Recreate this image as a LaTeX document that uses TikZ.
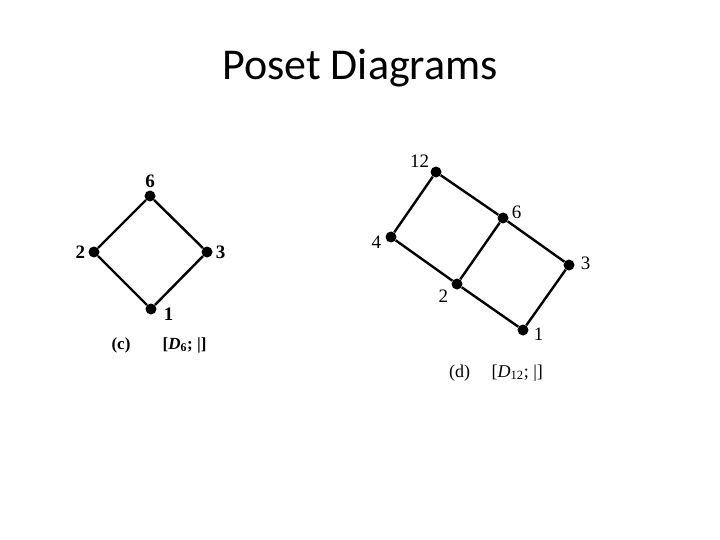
\documentclass[tikz,border=0pt]{standalone}
\usepackage{fontspec}
\setmainfont{Liberation Serif}
\newfontfamily\titlefont{Carlito}

\begin{document}
\begin{tikzpicture}[x=1pt, y=-1pt,
        elem/.style={circle, fill=black, inner sep=0pt, minimum size=11pt},
        lbl/.style={font=\fontsize{19}{19}\selectfont, inner sep=1pt},
        blbl/.style={font=\fontsize{19}{19}\selectfont\bfseries, inner sep=1pt},
        edge/.style={line width=2.4pt},
        caption/.style={font=\fontsize{18}{18}\selectfont}
    ]
        \useasboundingbox (0,0) rectangle (720,540);

        % Title
        \node[font=\titlefont\fontsize{44}{44}\selectfont] (title) at (360,68) {Poset Diagrams};

        % Left poset: divisors of 6
        \node[elem, label={[blbl, label distance=1pt]above:6}] (c6) at (150,196) {};
        \node[elem, label={[blbl, label distance=2pt]left:2}] (c2) at (94,252) {};
        \node[elem, label={[blbl, label distance=2pt]right:3}] (c3) at (207,252) {};
        \node[elem, label={[blbl, label distance=6pt, yshift=-5pt]right:1}] (c1) at (151,309) {};
        \draw[edge] (c1) -- (c2) -- (c6) -- (c3) -- (c1);
        \node[caption, font=\fontsize{17}{17}\selectfont\bfseries] (ccap) at (159,345) {(c)\hspace{1.9em}[\textit{D}\textsubscript{6}; |]};

        % Right poset: divisors of 12
        \node[elem, label={[lbl, label distance=1pt]150:12}] (d12) at (436,172) {};
        \node[elem, label={[lbl, label distance=2pt, yshift=6pt]right:6}] (d6) at (503,218) {};
        \node[elem, label={[lbl, label distance=3pt, yshift=-5pt]left:4}] (d4) at (391,237) {};
        \node[elem, label={[lbl, label distance=5pt, yshift=2pt]right:3}] (d3) at (569,265) {};
        \node[elem, label={[lbl, label distance=2pt, yshift=-12pt]left:2}] (d2) at (457,284) {};
        \node[elem, label={[lbl, label distance=4pt, yshift=-4pt]right:1}] (d1) at (523,330) {};
        \draw[edge] (d1) -- (d2) -- (d4) -- (d12) -- (d6) -- (d3) -- (d1);
        \draw[edge] (d2) -- (d6);
        \node[caption] (dcap) at (496,373) {(d)\hspace{1.2em}[\textit{D}\textsubscript{12}; |]};
    \end{tikzpicture}
\end{document}
